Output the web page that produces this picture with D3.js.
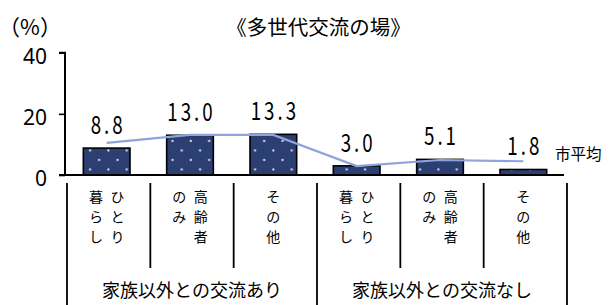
<!DOCTYPE html>
<html>
<head>
<meta charset="utf-8">
<script src="https://cdn.jsdelivr.net/npm/d3@7"></script>
<style>
  html, body { margin: 0; padding: 0; background: #fff; }
  svg { display: block; }
</style>
</head>
<body>
<script>

const groups = ["家族以外との交流あり", "家族以外との交流なし"]
const categories = ["ひとり暮らし", "高齢者のみ", "その他", "ひとり暮らし", "高齢者のみ", "その他"]
const values = [8.8, 13.0, 13.3, 3.0, 5.1, 1.8]
const cityAverage = [10.5, 13.1, 13.1, 2.9, 4.9, 4.5]
const yTicks = [0, 20, 40]

const jpFont = "'Noto Sans CJK JP', 'Noto Sans', sans-serif"

window.onload = function (){

    const width = 613
    const height = 305
    const plot = {left: 65, right: 565, top: 52.7, bottom: 175}

    const svg = d3.select('body')
        .append('svg')
        .attr('width', width)
        .attr('height', height)

    const x = d3.scaleBand()
        .domain(d3.range(categories.length))
        .range([plot.left, plot.right])
        .paddingInner(0.44)
        .paddingOuter(0.22)

    const y = d3.scaleLinear()
        .domain([0, 40])
        .range([plot.bottom, plot.top])

    const step = x.step()
    const center = i => x(i) + x.bandwidth() / 2

    // dot pattern, anchored to the page like the original
    const pattern = svg.append('defs')
        .append('pattern')
        .attr('id', 'dots')
        .attr('patternUnits', 'userSpaceOnUse')
        .attr('width', step / 4.545)
        .attr('height', 19)

    pattern.append('circle').attr('cx', 16.7).attr('cy', 17.5).attr('r', 1.15).attr('fill', '#d9dce6')
    pattern.append('circle').attr('cx', 7.5).attr('cy', 8).attr('r', 1.15).attr('fill', '#d9dce6')

    // bars
    const bars = svg.append('g').attr('class', 'bars')
        .selectAll('g')
        .data(values)
        .join('g')

    bars.append('rect')
        .attr('x', (d, i) => x(i))
        .attr('y', d => y(d))
        .attr('width', x.bandwidth())
        .attr('height', d => y(0) - y(d))
        .attr('fill', '#2c3f72')

    bars.append('rect')
        .attr('x', (d, i) => x(i))
        .attr('y', d => y(d))
        .attr('width', x.bandwidth())
        .attr('height', d => y(0) - y(d))
        .attr('fill', 'url(#dots)')
        .attr('stroke', '#000')
        .attr('stroke-width', 1.6)

    // axes
    const yAxis = svg.append('g')
        .attr('transform', getTranslateString(plot.left, 0))
        .call(d3.axisLeft(y).tickValues(yTicks).tickSize(6).tickFormat(d3.format('d')))

    yAxis.select('.domain')
        .attr('d', 'M-6,' + y(40) + 'H0V' + y(0))
        .attr('stroke-width', 2)
    yAxis.selectAll('.tick line').attr('stroke-width', 1.6)
    yAxis.selectAll('.tick text')
        .attr('x', -18)
        .attr('dy', '0.52em')
        .style('font-family', "'Noto Sans', sans-serif")
        .style('font-size', '21px')
        .attr('fill', '#000')

    svg.append('line')
        .attr('x1', plot.left - 6)
        .attr('x2', plot.right - 1)
        .attr('y1', y(0))
        .attr('y2', y(0))
        .attr('stroke', '#000')
        .attr('stroke-width', 2)

    // city average line
    const line = d3.line()
        .x((d, i) => center(i))
        .y(d => y(d))

    svg.append('path')
        .datum(cityAverage)
        .attr('d', line)
        .attr('fill', 'none')
        .attr('stroke', '#8fa3dc')
        .attr('stroke-width', 2.2)

    svg.append('text')
        .attr('x', 555)
        .attr('y', 160)
        .text('市平均')
        .style('font-family', jpFont)
        .style('font-size', '15.5px')

    // value labels: tall narrow digits with a wide point
    svg.append('g').selectAll('text')
        .data(values)
        .join('text')
        .attr('transform', (d, i) => getTranslateString(center(i) + 1.5, y(d) - 14) + ' scale(0.75,1)')
        .attr('text-anchor', 'middle')
        .text(d => d3.format('.1f')(d))
        .style('font-family', jpFont)
        .style('font-size', '25px')
        .style('letter-spacing', '4px')

    // titles
    svg.append('text')
        .attr('x', 318.5)
        .attr('y', 35)
        .attr('text-anchor', 'middle')
        .text('《多世代交流の場》')
        .style('font-family', jpFont)
        .style('font-size', '20.5px')

    svg.append('text')
        .attr('x', 30)
        .attr('y', 35)
        .attr('text-anchor', 'middle')
        .text('（%）')
        .style('font-family', jpFont)
        .style('font-size', '21.5px')

    // category table below axis
    const table = svg.append('g').attr('class', 'table')
    const lineTop = 183

    d3.range(categories.length + 1).forEach(function (i){
        const lx = plot.left + 2 + step * i
        const full = (i % 3 === 0)
        table.append('line')
            .attr('x1', lx).attr('x2', lx)
            .attr('y1', lineTop)
            .attr('y2', full ? height : 268)
            .attr('stroke', '#000')
            .attr('stroke-width', 1.8)
    })

    // vertical text, columns of three characters, read right to left
    categories.forEach(function (label, i){
        const columns = []
        for (let k = 0; k < label.length; k += 3) columns.push(label.slice(k, k + 3))
        const colGap = 21.5
        const cx = center(i)
        columns.forEach(function (col, c){
            const colX = cx + ((columns.length - 1) / 2 - c) * colGap
            Array.from(col).forEach(function (ch, r){
                table.append('text')
                    .attr('x', colX)
                    .attr('y', 196.7 + r * 20)
                    .attr('dy', '0.36em')
                    .attr('text-anchor', 'middle')
                    .text(ch)
                    .style('font-family', jpFont)
                    .style('font-size', '14px')
            })
        })
    })

    groups.forEach(function (g, i){
        table.append('text')
            .attr('x', plot.left + 2 + step * (3 * i + 1.5))
            .attr('y', 297)
            .attr('text-anchor', 'middle')
            .text(g)
            .style('font-family', jpFont)
            .style('font-size', '18px')
    })

}

function getTranslateString(x, y){
    return 'translate(' + x + ',' + y + ')'
}
</script>
</body>
</html>
